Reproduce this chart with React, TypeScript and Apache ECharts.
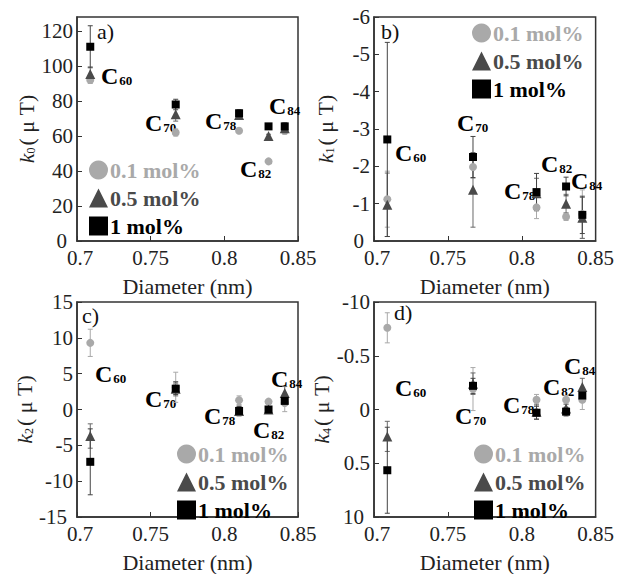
import React, { useEffect, useRef } from "react";
import * as echarts from "echarts";

const diameters = [0.709, 0.767, 0.81, 0.83, 0.841];
const fullerenes = ["60", "70", "78", "82", "84"];
const concentrations = ["0.1 mol%", "0.5 mol%", "1 mol%"];

// k0 (μT)
const k0Low = [92, 62, 63, 45.5, 63];
const k0LowErr = [2, 2, 1, 1, 2];
const k0Mid = [95.5, 72.5, 72, 60, 64.5];
const k0MidErr = [4, 4, 2, 1, 2];
const k0High = [111, 78, 73, 65.5, 65.5];
const k0HighErr = [12, 3, 2, 1, 2];

// k1 (μT)
const k1Low = [-1.12, -1.98, -0.9, -0.65, -0.72];
const k1LowErr = [0.75, 0.3, 0.3, 0.1, 0.65];
const k1Mid = [-0.97, -1.37, -1.28, -1.0, -0.62];
const k1MidErr = [0.85, 1.0, 0.4, 0.25, 0.55];
const k1High = [-2.72, -2.25, -1.31, -1.46, -0.7];
const k1HighErr = [2.6, 0.55, 0.5, 0.25, 0.5];

// k2 (μT)
const k2Low = [9.3, 3.1, 1.3, 1.1, 0.9];
const k2LowErr = [1.9, 2.1, 0.6, 0.3, 1.2];
const k2Mid = [-3.7, 2.9, -0.2, 0.0, 2.3];
const k2MidErr = [1.7, 1.0, 0.7, 0.3, 0.9];
const k2High = [-7.3, 2.9, -0.2, 0.0, 1.2];
const k2HighErr = [4.6, 0.8, 0.6, 0.3, 0.6];

// k4 (μT)
const k4Low = [-0.76, -0.19, -0.09, -0.09, -0.09];
const k4LowErr = [0.14, 0.2, 0.05, 0.04, 0.09];
const k4Mid = [0.25, -0.24, 0.02, -0.01, -0.21];
const k4MidErr = [0.14, 0.1, 0.07, 0.04, 0.08];
const k4High = [0.565, -0.22, 0.03, 0.02, -0.13];
const k4HighErr = [0.4, 0.07, 0.06, 0.04, 0.06];

const SERIF = "Liberation Serif";
const markerColors = ["#a9a9a9", "#4a4a4a", "#000000"];
const barColors = ["#a9a9a9", "#6a6a6a", "#444444"];
const symbols = ["circle", "triangle", "rect"];
const symbolSizes = [8, 10, 8];

const panels = [
  { vals: [k0Low, k0Mid, k0High], errs: [k0LowErr, k0MidErr, k0HighErr], sub: "0", min: 0, max: 128, interval: 20, inverse: false, tag: "a)" },
  { vals: [k1Low, k1Mid, k1High], errs: [k1LowErr, k1MidErr, k1HighErr], sub: "1", min: -6, max: 0, interval: 1, inverse: true, tag: "b)" },
  { vals: [k2Low, k2Mid, k2High], errs: [k2LowErr, k2MidErr, k2HighErr], sub: "2", min: -15, max: 15, interval: 5, inverse: false, tag: "c)" },
  { vals: [k4Low, k4Mid, k4High], errs: [k4LowErr, k4MidErr, k4HighErr], sub: "4", min: -1, max: 1, interval: 0.5, inverse: true, tag: "d)" },
];

const gridBoxes = [
  { left: 77, top: 17, width: 221, height: 224 },
  { left: 374, top: 17, width: 225, height: 224 },
  { left: 77, top: 302, width: 221, height: 222 },
  { left: 374, top: 302, width: 225, height: 222 },
];

const legendPos = [
  { left: 89, top: 159 },
  { left: 472, top: 22 },
  { left: 177, top: 443 },
  { left: 474, top: 443 },
];

// annotation label positions (pixels) for C60..C84 in each panel
const annotPos = [
  [[101, 75], [145, 122], [205, 120], [240, 168], [269, 105]],
  [[395, 152], [457, 122], [504, 190], [541, 163], [571, 180]],
  [[95, 373], [145, 398], [204, 415], [253, 429], [271, 378]],
  [[395, 387], [455, 415], [503, 404], [543, 386], [564, 365]],
];
const tagPos = [[97, 32], [381, 32], [82, 316], [394, 313]];

function errorRender(color: string) {
  return (params: any, api: any) => {
    const x = api.value(0);
    const y = api.value(1);
    const e = api.value(2);
    const a = api.coord([x, y + e]);
    const b = api.coord([x, y - e]);
    const hw = 2.5;
    const st = { stroke: color, lineWidth: 1 };
    return {
      type: "group",
      children: [
        { type: "line", shape: { x1: a[0], y1: a[1], x2: b[0], y2: b[1] }, style: st },
        { type: "line", shape: { x1: a[0] - hw, y1: a[1], x2: a[0] + hw, y2: a[1] }, style: st },
        { type: "line", shape: { x1: b[0] - hw, y1: b[1], x2: b[0] + hw, y2: b[1] }, style: st },
      ],
    };
  };
}

export default function App() {
  const ref = useRef<HTMLDivElement>(null);
  useEffect(() => {
    document.body.style.margin = "0";
    if (!ref.current) return;
    const chart = echarts.init(ref.current, null, { renderer: "svg" });

    const grid = gridBoxes.map((g) => ({
      ...g,
      show: true,
      borderColor: "#333",
      borderWidth: 1.5,
      backgroundColor: "transparent",
    }));

    const xAxis = gridBoxes.map((_, i) => ({
      type: "value",
      gridIndex: i,
      min: 0.7,
      max: 0.85,
      interval: 0.05,
      name: "Diameter (nm)",
      nameLocation: "middle",
      nameGap: 34,
      nameTextStyle: { fontFamily: SERIF, fontSize: 22, color: "#222" },
      axisLine: { show: true, onZero: false, lineStyle: { color: "#333", width: 1.5 } },
      axisTick: { show: true, inside: true, length: 5, lineStyle: { color: "#333" } },
      axisLabel: {
        fontFamily: SERIF,
        fontSize: 21,
        color: "#222",
        margin: 6,
        formatter: (v: number) => (Math.abs(v - 0.7) < 1e-9 ? "{f|0.7}" : String(+v.toFixed(2))),
        rich: { f: { fontFamily: SERIF, fontSize: 21, color: "#222", padding: [0, 0, 0, 6] } },
      },
      splitLine: { show: false },
    }));

    const yAxis = panels.map((p, i) => {
      const bottomVal = p.inverse ? p.max : p.min;
      return {
        type: "value",
        gridIndex: i,
        min: p.min,
        max: p.max,
        interval: p.interval,
        inverse: p.inverse,
        name: `{k|k}{s|${p.sub}}{n|( μ T)}`,
        nameLocation: "middle",
        nameGap: i % 2 === 0 ? 40 : 38,
        nameTextStyle: {
          fontFamily: SERIF,
          fontSize: 22,
          color: "#222",
          rich: {
            k: { fontFamily: SERIF, fontSize: 22, fontStyle: "italic", color: "#222" },
            s: { fontFamily: SERIF, fontSize: 12, color: "#222", verticalAlign: "bottom", padding: [10, 2, 0, 0] },
            n: { fontFamily: SERIF, fontSize: 22, color: "#222" },
          },
        },
        axisLine: { show: true, onZero: false, lineStyle: { color: "#333", width: 1.5 } },
        axisTick: { show: true, inside: true, length: 5, lineStyle: { color: "#333" } },
        axisLabel: {
          fontFamily: SERIF,
          fontSize: 21,
          color: "#222",
          margin: 4,
          formatter: (v: number) => {
            let t = String(v);
            if (i === 3) {
              if (v === -1) t = "-10";
              if (v === 1) t = "10";
            }
            return v === bottomVal ? `{b|${t}}` : t;
          },
          rich: { b: { fontFamily: SERIF, fontSize: 21, color: "#222", padding: [0, 6, 0, 0] } },
        },
        splitLine: { show: false },
      };
    });

    const series: any[] = [];
    panels.forEach((p, pi) => {
      concentrations.forEach((c, ci) => {
        series.push({
          type: "custom",
          name: "err" + pi + ci,
          xAxisIndex: pi,
          yAxisIndex: pi,
          renderItem: errorRender(barColors[ci]),
          data: diameters.map((d, j) => [d, p.vals[ci][j], p.errs[ci][j]]),
          z: 2,
          silent: true,
        });
      });
    });
    panels.forEach((p, pi) => {
      concentrations.forEach((c, ci) => {
        series.push({
          type: "scatter",
          name: c,
          xAxisIndex: pi,
          yAxisIndex: pi,
          symbol: symbols[ci],
          symbolSize: symbolSizes[ci],
          itemStyle: { color: markerColors[ci], opacity: 1 },
          data: diameters.map((d, j) => [d, p.vals[ci][j]]),
          z: 3 + ci,
        });
      });
    });

    const legend = legendPos.map((lp) => ({
      ...lp,
      orient: "vertical",
      itemWidth: 19,
      itemHeight: 19,
      itemGap: 6,
      padding: 0,
      selectedMode: false,
      textStyle: { fontFamily: SERIF, fontSize: 22, fontWeight: "bold", lineHeight: 21, padding: [0, 0, 0, -3] },
      data: concentrations.map((c, ci) => ({
        name: c,
        icon: symbols[ci],
        itemStyle: { color: markerColors[ci] },
        textStyle: { color: markerColors[ci] === "#000000" ? "#000" : markerColors[ci] },
      })),
    }));

    const graphic: any[] = [];
    annotPos.forEach((row) => {
      row.forEach((pos, j) => {
        graphic.push({
          type: "text",
          left: pos[0],
          top: pos[1] - 11,
          style: {
            text: `{c|C}{s|${fullerenes[j]}}`,
            rich: {
              c: { fontFamily: SERIF, fontSize: 24, fontWeight: "bold", fill: "#000", lineHeight: 22 },
              s: { fontFamily: SERIF, fontSize: 13, fontWeight: "bold", fill: "#000", lineHeight: 22, verticalAlign: "bottom", padding: [10, 0, 0, 1] },
            },
          },
        });
      });
    });
    tagPos.forEach((pos, pi) => {
      graphic.push({
        type: "text",
        left: pos[0],
        top: pos[1] - 12,
        style: { text: panels[pi].tag, fontFamily: SERIF, fontSize: 22, fill: "#111" },
      });
    });

    chart.setOption({
      animation: false,
      backgroundColor: "#fff",
      textStyle: { fontFamily: SERIF },
      grid,
      xAxis,
      yAxis,
      legend,
      series,
      graphic,
    });
    return () => chart.dispose();
  }, []);
  return <div ref={ref} style={{ width: 617, height: 574 }} />;
}
